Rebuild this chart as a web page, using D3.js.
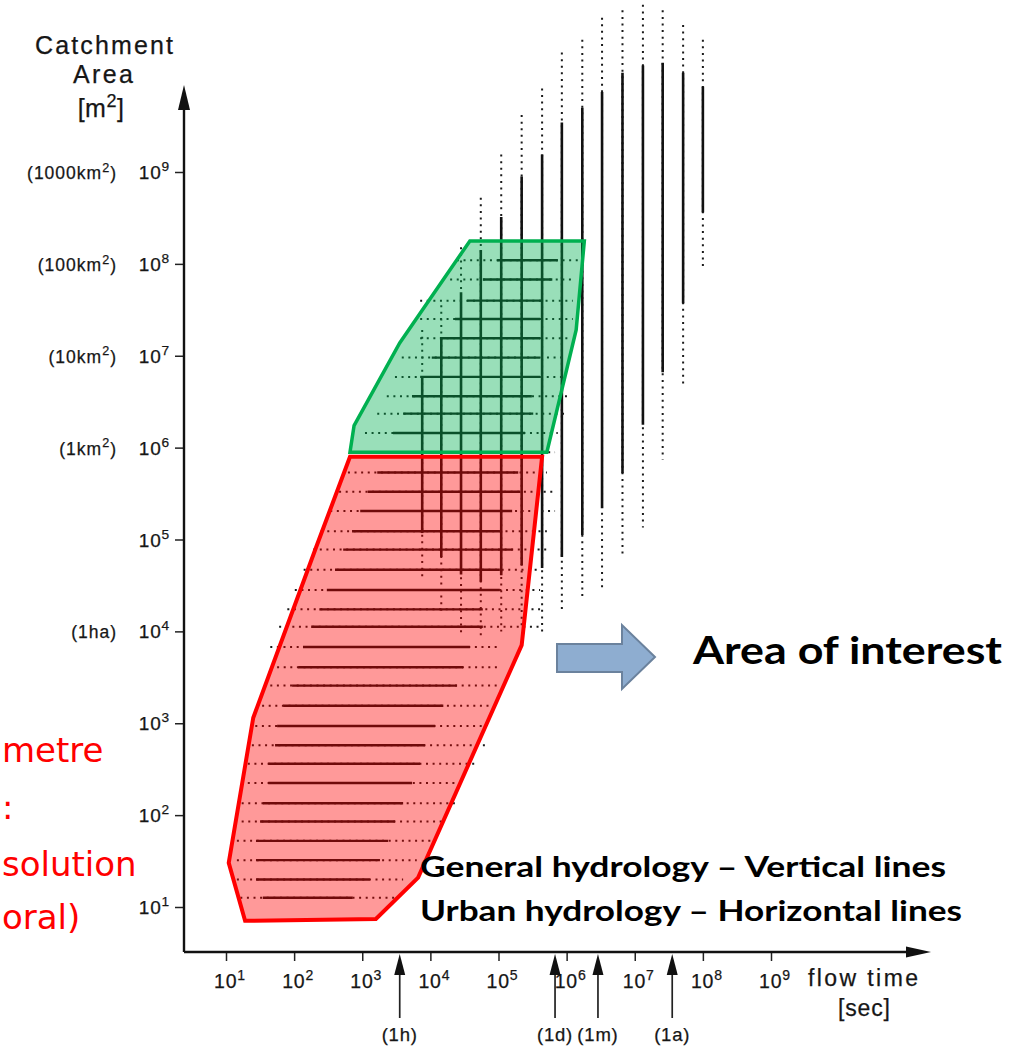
<!DOCTYPE html>
<html>
<head>
<meta charset="utf-8">
<script src="https://cdn.jsdelivr.net/npm/d3@7"></script>
<style>
  html, body { margin: 0; padding: 0; background: #fff; }
  svg { display: block; }
  .scan-text { font-family: "Liberation Sans", Arial, sans-serif; fill: #161616; stroke: #161616; stroke-width: 0.25px; }
  .note-text { font-family: "Lato", "Open Sans", sans-serif; }
</style>
</head>
<body>
<svg id="chart" width="1015" height="1047" viewBox="0 0 1015 1047"></svg>
<script>
// all values are log10 exponents: flow time in sec, catchment area in m2
const timeTicks = [1, 2, 3, 4, 5, 6, 7, 8, 9];
const areaTicks = [1, 2, 3, 4, 5, 6, 7, 8, 9];
const areaNoteExp = [9, 8, 7, 6, 4];
const areaNoteText = ["1000km", "100km", "10km", "1km", "1ha"];
const timeMarkExp = [3.55, 5.83, 6.46, 7.55];
const timeMarkText = ["(1h)", "(1d)", "(1m)", "(1a)"];

// general hydrology - vertical lines
const generalTime = [3.88, 4.16, 4.45, 4.74, 5.04, 5.34, 5.64, 5.93, 6.23, 6.52, 6.82, 7.12, 7.41, 7.71, 8.00];
const generalDotTop = [7.28, 7.55, 8.18, 8.72, 9.19, 9.62, 9.91, 10.30, 10.44, 10.68, 10.76, 10.82, 10.76, 10.60, 10.44];
const generalSolidTop = [6.77, 7.20, 7.69, 8.15, 8.51, 8.95, 9.19, 9.54, 9.70, 9.87, 10.08, 10.16, 10.19, 10.08, 9.93];
const generalSolidBottom = [5.07, 4.81, 4.62, 4.54, 4.61, 4.72, 4.69, 4.81, 5.05, 5.34, 5.72, 6.25, 6.82, 7.57, 8.56];
const generalDotBottom = [4.59, 4.21, 3.95, 3.92, 4.00, 4.04, 3.96, 4.20, 4.37, 4.45, 4.81, 5.13, 5.87, 6.68, 7.97];

// urban hydrology - horizontal lines
const urbanArea = [8.04, 7.83, 7.60, 7.40, 7.19, 6.98, 6.77, 6.56, 6.37, 6.16, 5.95, 5.73, 5.52, 5.31, 5.09, 4.89, 4.67, 4.45, 4.24, 4.05, 3.83, 3.61, 3.41, 3.19, 2.97, 2.76, 2.56, 2.35, 2.13, 1.93, 1.72, 1.51, 1.30, 1.10];
const urbanDotLeft = [4.39, 4.29, 3.85, 3.85, 3.85, 3.58, 3.48, 3.36, 3.22, 3.04, 2.92, 2.79, 2.66, 2.53, 2.39, 2.28, 2.14, 2.01, 1.90, 1.78, 1.65, 1.75, 1.65, 1.53, 1.43, 1.38, 1.32, 1.32, 1.23, 1.23, 1.16, 1.16, 1.16, 1.21];
const urbanSolidLeft = [4.98, 4.77, 4.54, 4.36, 4.14, 4.02, 3.85, 3.73, 3.60, 3.45, 3.33, 3.22, 3.08, 2.97, 2.85, 2.72, 2.60, 2.48, 2.37, 2.25, 2.13, 2.06, 1.97, 1.84, 1.75, 1.72, 1.62, 1.62, 1.54, 1.50, 1.44, 1.44, 1.44, 1.54];
const urbanSolidRight = [5.87, 5.79, 5.64, 5.61, 5.61, 5.61, 5.61, 5.49, 5.51, 5.39, 5.34, 5.29, 5.32, 5.20, 5.02, 5.21, 5.02, 5.02, 4.77, 4.77, 4.58, 4.48, 4.39, 4.19, 4.07, 3.92, 3.85, 3.73, 3.60, 3.48, 3.38, 3.26, 3.11, 2.86];
const urbanDotRight = [6.20, 6.12, 6.09, 6.09, 6.05, 5.98, 5.95, 6.01, 5.98, 5.87, 5.83, 5.71, 5.83, 5.83, 5.71, 5.71, 5.61, 5.61, 5.61, 5.61, 5.02, 4.98, 4.98, 4.92, 4.77, 4.80, 4.68, 4.51, 4.39, 4.17, 4.04, 3.80, 3.60, 3.48];

// highlighted regions
const greenTime = [4.58, 6.26, 6.14, 5.71, 2.82, 2.88, 3.55];
const greenArea = [8.25, 8.25, 7.28, 5.95, 5.95, 6.24, 7.14];
const redTime = [2.82, 5.64, 5.34, 3.82, 3.20, 1.28, 1.04, 1.40, 2.32];
const redArea = [5.90, 5.90, 3.85, 1.32, 0.87, 0.85, 1.48, 3.06, 4.91];

const redNoteLines = ["metre", ":", "solution", "oral)"];

const svg = document.getElementById("chart");
const root = d3.select(svg);

const axisLeftX = 184;
const axisBottomY = 952;

const x = d3.scaleLinear().domain([1, 9]).range([226, 771]);
const y = d3.scaleLinear().domain([1, 9]).range([907, 172]);

function addSupText(parent, px, py, parts, opts) {
  const node = parent.append("text")
    .attr("x", px)
    .attr("y", py)
    .attr("class", "scan-text")
    .attr("text-anchor", opts.anchor || "start")
    .style("font-size", opts.size + "px")
    .style("letter-spacing", (opts.spacing || 0) + "px");
  node.append("tspan").text(parts[0]);
  if (parts[1]) {
    node.append("tspan")
      .attr("dy", -opts.size * 0.42)
      .style("font-size", (opts.size * 0.72) + "px")
      .text(parts[1]);
  }
  if (parts[2]) {
    node.append("tspan")
      .attr("dy", opts.size * 0.42)
      .text(parts[2]);
  }
  return node;
}

// dotted + solid vertical lines
const vLayer = root.append("g");
vLayer.selectAll("line.dot")
  .data(generalTime)
  .join("line")
  .attr("class", "dot")
  .attr("x1", d => x(d))
  .attr("x2", d => x(d))
  .attr("y1", (d, i) => y(generalDotTop[i]))
  .attr("y2", (d, i) => y(generalDotBottom[i]))
  .attr("stroke", "#1a1a1a")
  .attr("stroke-width", 2)
  .attr("stroke-dasharray", "2 4.6");
vLayer.selectAll("line.solid")
  .data(generalTime)
  .join("line")
  .attr("class", "solid")
  .attr("x1", d => x(d))
  .attr("x2", d => x(d))
  .attr("y1", (d, i) => y(generalSolidTop[i]))
  .attr("y2", (d, i) => y(generalSolidBottom[i]))
  .attr("stroke", "#111")
  .attr("stroke-width", 2.6);

// dotted + solid horizontal lines
const hLayer = root.append("g");
hLayer.selectAll("line.dot")
  .data(urbanArea)
  .join("line")
  .attr("class", "dot")
  .attr("y1", d => y(d))
  .attr("y2", d => y(d))
  .attr("x1", (d, i) => x(urbanDotLeft[i]))
  .attr("x2", (d, i) => x(urbanDotRight[i]))
  .attr("stroke", "#1a1a1a")
  .attr("stroke-width", 2)
  .attr("stroke-dasharray", "2 4.6");
hLayer.selectAll("line.solid")
  .data(urbanArea)
  .join("line")
  .attr("class", "solid")
  .attr("y1", d => y(d))
  .attr("y2", d => y(d))
  .attr("x1", (d, i) => x(urbanSolidLeft[i]))
  .attr("x2", (d, i) => x(urbanSolidRight[i]))
  .attr("stroke", "#111")
  .attr("stroke-width", 2.4);

// highlight polygons
const area = d3.line().x(p => x(p[0])).y(p => y(p[1])).curve(d3.curveLinearClosed);
root.append("path")
  .attr("d", area(greenTime.map((t, i) => [t, greenArea[i]])))
  .attr("fill", "rgba(0, 176, 80, 0.4)")
  .attr("stroke", "#00b050")
  .attr("stroke-width", 3.5)
  .attr("stroke-linejoin", "miter");
root.append("path")
  .attr("d", area(redTime.map((t, i) => [t, redArea[i]])))
  .attr("fill", "rgba(255, 0, 0, 0.4)")
  .attr("stroke", "#ff0000")
  .attr("stroke-width", 4)
  .attr("stroke-linejoin", "miter");

// axes
root.append("g")
  .attr("transform", `translate(0, ${axisBottomY})`)
  .call(d3.axisBottom(x).tickValues(timeTicks).tickSize(9).tickFormat("").tickSizeOuter(0))
  .call(g => g.select(".domain").remove())
  .call(g => g.selectAll(".tick line").attr("stroke", "#222").attr("stroke-width", 1.5));
root.append("g")
  .attr("transform", `translate(${axisLeftX}, 0)`)
  .call(d3.axisLeft(y).tickValues(areaTicks).tickSize(9).tickFormat("").tickSizeOuter(0))
  .call(g => g.select(".domain").remove())
  .call(g => g.selectAll(".tick line").attr("stroke", "#222").attr("stroke-width", 1.5));

root.append("path")
  .attr("d", `M${axisLeftX},${axisBottomY} H908 M${axisLeftX},${axisBottomY} V106`)
  .attr("stroke", "#111")
  .attr("stroke-width", 2.4)
  .attr("fill", "none");
root.append("path")
  .attr("d", `M931,${axisBottomY} L906,${axisBottomY - 5.5} L906,${axisBottomY + 5.5} Z`)
  .attr("fill", "#111");
root.append("path")
  .attr("d", `M${axisLeftX},85 L${axisLeftX - 6},110 L${axisLeftX + 6},110 Z`)
  .attr("fill", "#111");

// tick labels
const labels = root.append("g");
areaTicks.forEach(t => {
  addSupText(labels, 170, y(t) + 7, ["10", String(t)], { size: 19, anchor: "end", spacing: 0.8 });
});
timeTicks.forEach(t => {
  addSupText(labels, x(t) + 4, 988, ["10", String(t)], { size: 19.5, anchor: "middle", spacing: 0.8 });
});
areaNoteExp.forEach((t, i) => {
  const text = areaNoteText[i];
  const parts = text.endsWith("km") ? ["(" + text, "2", ")"] : ["(" + text + ")"];
  addSupText(labels, 117, y(t) + 7, parts, { size: 17.5, anchor: "end", spacing: 1 });
});

// axis titles
labels.append("text").attr("class", "scan-text").attr("x", 104).attr("y", 54)
  .attr("text-anchor", "middle").style("font-size", "25px").attr("textLength", 138).text("Catchment");
labels.append("text").attr("class", "scan-text").attr("x", 103).attr("y", 83)
  .attr("text-anchor", "middle").style("font-size", "25px").attr("textLength", 60).text("Area");
addSupText(labels, 101, 117, ["[m", "2", "]"], { size: 25, anchor: "middle", spacing: 0.5 });
labels.append("text").attr("class", "scan-text").attr("x", 808).attr("y", 986)
  .style("font-size", "23px").attr("textLength", 110).text("flow time");
labels.append("text").attr("class", "scan-text").attr("x", 838).attr("y", 1016)
  .style("font-size", "23px").attr("textLength", 52).text("[sec]");

// time markers under the axis
const marks = root.append("g");
timeMarkExp.forEach((t, i) => {
  const px = x(t);
  marks.append("line")
    .attr("x1", px).attr("x2", px).attr("y1", 1018).attr("y2", 970)
    .attr("stroke", "#222").attr("stroke-width", 1.7);
  marks.append("path")
    .attr("d", `M${px},954 L${px - 5.5},975 L${px + 5.5},975 Z`)
    .attr("fill", "#111");
  addSupText(marks, px, 1041, [timeMarkText[i]], { size: 18.5, anchor: "middle", spacing: 0.8 });
});

// block arrow pointing to the label
root.append("path")
  .attr("d", "M557,644 H622 V625 L655,657 L622,689 V672 H557 Z")
  .attr("fill", "#8eadd0")
  .attr("stroke", "#6b829d")
  .attr("stroke-width", 2);

const notes = root.append("g").attr("class", "note-text");
notes.append("text").attr("x", 693).attr("y", 664)
  .style("font-size", "38px").style("font-weight", 700).attr("fill", "#000")
  .attr("textLength", 309).attr("lengthAdjust", "spacingAndGlyphs")
  .text("Area of interest");
notes.append("text").attr("x", 420).attr("y", 877)
  .style("font-size", "29px").style("font-weight", 700).attr("fill", "#000")
  .attr("textLength", 526).attr("lengthAdjust", "spacingAndGlyphs")
  .text("General hydrology \u2013 Vertical lines");
notes.append("text").attr("x", 420).attr("y", 921)
  .style("font-size", "29px").style("font-weight", 700).attr("fill", "#000")
  .attr("textLength", 542).attr("lengthAdjust", "spacingAndGlyphs")
  .text("Urban hydrology \u2013 Horizontal lines");

// red side text, kept just inside the left page edge
const redStart = [2, 2, 2, 2];
const redBase = [762, 819, 876, 929];
redNoteLines.forEach((line, i) => {
  notes.append("text")
    .attr("x", redStart[i])
    .attr("y", redBase[i])
    .style("font-family", "'DejaVu Sans', sans-serif")
    .style("font-size", "34px")
    .attr("fill", "#ff0000")
    .text(line);
});
</script>
</body>
</html>
